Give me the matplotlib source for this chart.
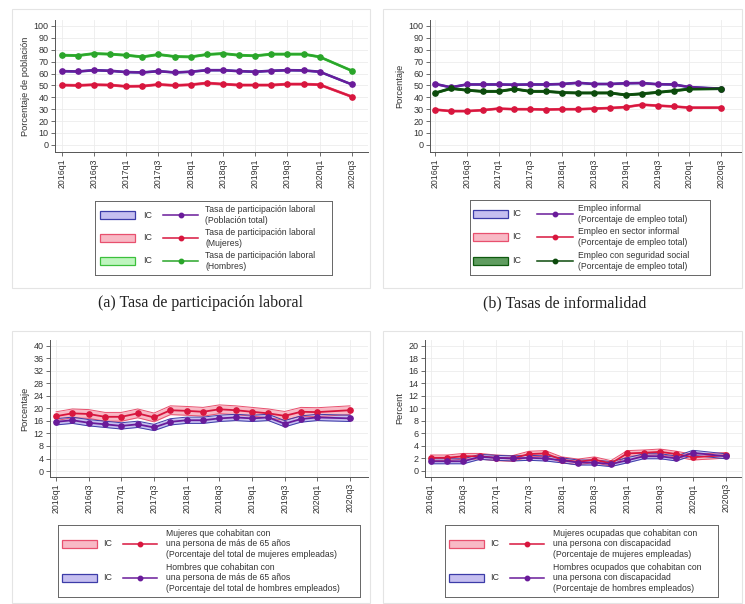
import numpy as np
import matplotlib
matplotlib.use('Agg')
import matplotlib.pyplot as plt
from matplotlib.patches import Rectangle

plt.rcParams['font.family'] = ['Liberation Sans', 'DejaVu Sans']

W, H = 745, 604

# quarters on the axis and quarters with data (2020q2 missing)
quarters = ['2016q1', '2016q2', '2016q3', '2016q4', '2017q1', '2017q2', '2017q3', '2017q4',
            '2018q1', '2018q2', '2018q3', '2018q4', '2019q1', '2019q2', '2019q3', '2019q4',
            '2020q1', '2020q2', '2020q3']
obs_quarters = quarters[:17] + ['2020q3']
tick_quarters = quarters[::2]

# (a) labour participation
part_total = [62.0, 61.7, 62.8, 62.3, 61.2, 60.9, 62.0, 60.9, 61.5, 62.8, 62.8, 62.0, 61.5, 62.3, 62.8, 62.6, 61.5, 50.8]
part_women = [50.3, 50.0, 50.6, 50.3, 49.2, 49.4, 50.8, 50.0, 50.6, 52.0, 51.1, 50.3, 50.3, 50.3, 51.1, 51.1, 50.6, 40.5]
part_men = [75.4, 75.1, 76.8, 76.3, 75.4, 74.0, 76.0, 74.3, 74.0, 76.0, 76.8, 75.4, 74.9, 76.3, 76.3, 76.3, 74.0, 62.3]

# (b) informality
informal = [51.3, 48.4, 50.8, 50.8, 50.8, 50.6, 50.8, 50.8, 51.2, 52.2, 51.2, 51.2, 51.8, 52.0, 51.0, 50.8, 48.6, 47.2]
sector_informal = [29.7, 28.4, 28.4, 29.2, 30.5, 30.0, 30.0, 29.7, 30.0, 30.0, 30.5, 31.0, 31.8, 33.8, 33.0, 32.3, 31.3, 31.3]
social_sec = [43.6, 47.5, 46.0, 45.0, 45.0, 47.0, 45.0, 45.0, 44.0, 43.7, 43.7, 43.7, 42.0, 43.0, 44.2, 45.5, 47.0, 47.3]

# (c) living with a person older than 65
women_65 = [17.5, 18.4, 18.2, 17.3, 17.3, 18.4, 17.1, 19.4, 19.2, 18.9, 19.7, 19.4, 18.9, 18.4, 17.6, 18.9, 18.8, 19.4]
men_65 = [15.7, 16.2, 15.4, 14.9, 14.4, 14.9, 13.9, 15.7, 16.2, 16.2, 16.8, 17.1, 16.8, 17.1, 15.1, 16.6, 17.1, 16.8]

# (d) living with a person with disability
women_dis = [2.1, 2.1, 2.35, 2.35, 2.1, 2.0, 2.7, 2.8, 1.8, 1.45, 1.8, 1.2, 2.8, 2.9, 3.05, 2.7, 2.2, 2.5]
men_dis = [1.55, 1.55, 1.55, 2.25, 2.1, 2.0, 2.1, 2.0, 1.7, 1.35, 1.35, 1.1, 1.7, 2.35, 2.35, 2.0, 2.9, 2.35]

# CI half widths per series
ci_a = [0.7, 0.8, 0.8]
ci_b = [0.7, 0.7, 0.8]
ci_c = [1.4, 1.0]
ci_d = [0.45, 0.4]

PURPLE = ('#6a1b9a', '#c6bff0', '#3c3ca8')
RED = ('#d8163e', '#f8b9c5', '#e8506e')
GREEN = ('#2aa52a', '#bff5bf', '#3cc03c')
DGREEN = ('#0c4a0c', '#5f9c5f', '#0f5a0f')


def px_axes(fig, left, top, right, bottom):
    return fig.add_axes([left / W, 1 - bottom / H, (right - left) / W, (bottom - top) / H])


def draw_series(ax, vals, half, colors, lw=1.5, ms=3.8):
    line_col, fill_col, edge_col = colors
    x = np.array([quarters.index(q) for q in obs_quarters])
    y = np.array(vals)
    ax.fill_between(x, y - half, y + half, color=fill_col, lw=0, zorder=2)
    ax.plot(x, y - half, color=edge_col, lw=0.7, zorder=3)
    ax.plot(x, y + half, color=edge_col, lw=0.7, zorder=3)
    ax.plot(x, y, color=line_col, lw=lw, marker='o', ms=ms, zorder=4)


def setup(ax, xlim, ylim, yticks, ylabel):
    ax.set_xlim(xlim)
    ax.set_ylim(ylim)
    ax.set_xticks([quarters.index(q) for q in tick_quarters])
    ax.set_xticklabels(tick_quarters, rotation=90, fontsize=6.3, color='#333333')
    ax.set_yticks(yticks)
    ax.set_yticklabels([str(t) for t in yticks], fontsize=6.5, color='#333333')
    ax.tick_params(length=3, width=0.6, color='#555555', pad=1.5)
    ax.grid(color='#ececec', lw=0.6)
    ax.set_axisbelow(True)
    for s in ['top', 'right']:
        ax.spines[s].set_visible(False)
    for s in ['left', 'bottom']:
        ax.spines[s].set_color('#555555')
        ax.spines[s].set_linewidth(0.7)
    ax.set_ylabel(ylabel, fontsize=6.7, color='#333333', labelpad=3)


def draw_legend(fig, box, rows, xs):
    left, top, right, bottom = box
    lax = px_axes(fig, left, top, right, bottom)
    lax.set_xlim(0, right - left)
    lax.set_ylim(bottom - top, 0)
    lax.set_xticks([])
    lax.set_yticks([])
    for s in lax.spines.values():
        s.set_color('#666666')
        s.set_linewidth(0.7)
    px0, ic_x, l0, l1, tx = xs
    for yc, label, colors in rows:
        line_col, fill_col, edge_col = colors
        lax.add_patch(Rectangle((px0, yc - 4), 35, 8, fc=fill_col, ec=edge_col, lw=0.9))
        lax.text(ic_x, yc, 'IC', va='center', fontsize=6.4, color='#333333')
        lax.plot([l0, l1], [yc, yc], color=line_col, lw=1.1)
        lax.plot([(l0 + l1) / 2], [yc], marker='o', ms=3.2, color=line_col)
        lax.text(tx, yc, label, va='center', fontsize=6.2, color='#333333', linespacing=1.25)


fig = plt.figure(figsize=(W / 100, H / 100), dpi=100)

# faint graph region borders
for (l, t, r, b) in [(12, 9, 370, 288), (383, 9, 742, 288), (12, 331, 370, 603), (383, 331, 742, 603)]:
    fig.add_artist(Rectangle((l / W, 1 - b / H), (r - l) / W, (b - t) / H, transform=fig.transFigure,
                             fill=False, ec='#e4e4e4', lw=0.8))

# (a)
ax_a = px_axes(fig, 55, 20, 368, 152)
draw_series(ax_a, part_total, ci_a[0], PURPLE)
draw_series(ax_a, part_women, ci_a[1], RED)
draw_series(ax_a, part_men, ci_a[2], GREEN)
setup(ax_a, (-0.42, 19.0), (-6, 105), list(range(0, 101, 10)), 'Porcentaje de población')

# (b)
ax_b = px_axes(fig, 430, 20, 742, 152)
draw_series(ax_b, informal, ci_b[0], PURPLE)
draw_series(ax_b, sector_informal, ci_b[1], RED)
draw_series(ax_b, social_sec, ci_b[2], DGREEN)
setup(ax_b, (-0.31, 19.3), (-6, 105), list(range(0, 101, 10)), 'Porcentaje')

# (c)
ax_c = px_axes(fig, 50, 340, 368, 477)
draw_series(ax_c, women_65, ci_c[0], RED, lw=1.3)
draw_series(ax_c, men_65, ci_c[1], PURPLE, lw=1.3)
setup(ax_c, (-0.37, 19.1), (-1.9, 41.8), list(range(0, 41, 4)), 'Porcentaje')

# (d)
ax_d = px_axes(fig, 425, 340, 742, 477)
draw_series(ax_d, women_dis, ci_d[0], RED, lw=1.3)
draw_series(ax_d, men_dis, ci_d[1], PURPLE, lw=1.3)
setup(ax_d, (-0.34, 19.0), (-0.96, 20.9), list(range(0, 21, 2)), 'Percent')

# legends
draw_legend(fig, (95, 201, 332, 275), [
    (14, 'Tasa de participación laboral\n(Población total)', PURPLE),
    (37, 'Tasa de participación laboral\n(Mujeres)', RED),
    (60, 'Tasa de participación laboral\n(Hombres)', GREEN)], (5, 48, 68, 103, 110))
draw_legend(fig, (470, 200, 710, 275), [
    (14, 'Empleo informal\n(Porcentaje de empleo total)', PURPLE),
    (37, 'Empleo en sector informal\n(Porcentaje de empleo total)', RED),
    (61, 'Empleo con seguridad social\n(Porcentaje de empleo total)', DGREEN)], (3, 42, 67, 103, 108))
draw_legend(fig, (58, 525, 360, 597), [
    (19, 'Mujeres que cohabitan con\nuna persona de más de 65 años\n(Porcentaje del total de mujeres empleadas)', RED),
    (53, 'Hombres que cohabitan con\nuna persona de más de 65 años\n(Porcentaje del total de hombres empleados)', PURPLE)],
    (4, 45, 65, 99, 108))
draw_legend(fig, (445, 525, 718, 597), [
    (19, 'Mujeres ocupadas que cohabitan con\nuna persona con discapacidad\n(Porcentaje de mujeres empleadas)', RED),
    (53, 'Hombres ocupados que cohabitan con\nuna persona con discapacidad\n(Porcentaje de hombres empleados)', PURPLE)],
    (4, 45, 65, 99, 108))

# captions
fig.text(200 / W, 1 - 303 / H, '(a) Tasa de participación laboral', ha='center', va='center',
         fontsize=11.5, family=['Liberation Serif', 'DejaVu Serif'], color='#222222')
fig.text(565 / W, 1 - 303 / H, '(b) Tasas de informalidad', ha='center', va='center',
         fontsize=11.5, family=['Liberation Serif', 'DejaVu Serif'], color='#222222')

fig.savefig('out.png', dpi=100)
